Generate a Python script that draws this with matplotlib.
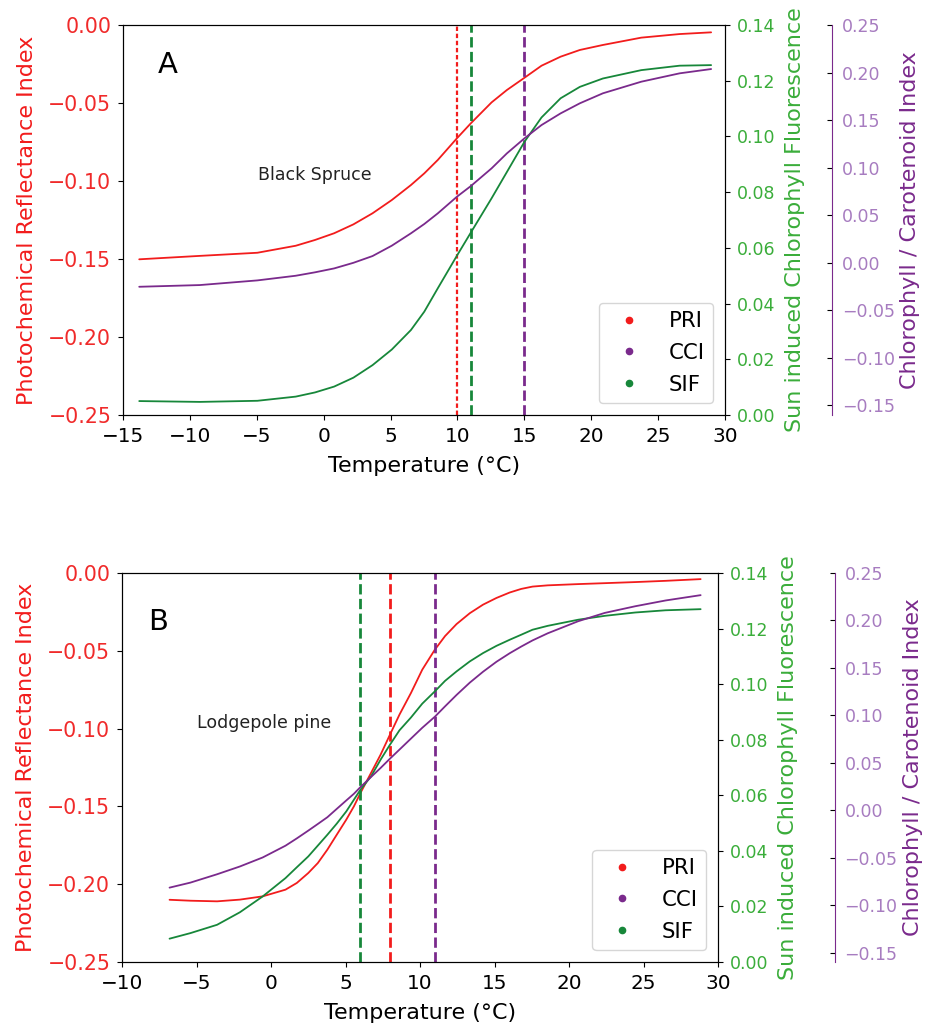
import matplotlib
matplotlib.use("Agg")
import matplotlib.pyplot as plt

# ---------------- data ----------------
# Panel A: Black Spruce
tA = [-13.79, -9.26, -4.96, -2.09, -0.65, 0.78, 2.22, 3.65, 5.09, 6.52, 7.52, 8.53, 9.96,
      11.0, 12.55, 13.69, 15.01, 16.28, 17.71, 19.15, 20.87, 23.74, 26.61, 28.96]
priA = [-0.1502, -0.148, -0.146, -0.1415, -0.1378, -0.1335, -0.1278, -0.1207, -0.1122, -0.1026,
        -0.0951, -0.0865, -0.0726, -0.063, -0.0496, -0.0417, -0.0338, -0.0261, -0.0203, -0.016,
        -0.0128, -0.0081, -0.0058, -0.0047]
cciA = [-0.0252, -0.0234, -0.0185, -0.0136, -0.010, -0.0059, 0.0000, 0.0071, 0.018, 0.031,
        0.0408, 0.052, 0.0695, 0.0807, 0.0993, 0.115, 0.1309, 0.1448, 0.1571, 0.1677,
        0.1782, 0.1904, 0.1992, 0.2037]
sifA = [0.0050, 0.0047, 0.0051, 0.0066, 0.0081, 0.0102, 0.0134, 0.0179, 0.0235, 0.0305,
        0.0371, 0.0455, 0.0572, 0.0655, 0.0778, 0.0872, 0.0981, 0.1068, 0.1137, 0.1178,
        0.1208, 0.1238, 0.1254, 0.1256]
vlinesA = {"PRI": 10, "SIF": 11, "CCI": 15}

# Panel B: Lodgepole pine
tB = [-6.81, -5.41, -3.62, -2.09, -0.56, 0.97, 1.73, 2.50, 3.14, 3.78, 4.41, 5.05, 5.56, 6.0,
      6.71, 7.35, 7.98, 8.62, 9.39, 10.15, 10.99, 11.68, 12.45, 13.34, 14.23, 15.13, 16.02,
      16.79, 17.55, 18.57, 20.61, 22.40, 24.44, 26.48, 28.83]
priB = [-0.210, -0.2106, -0.211, -0.2099, -0.2078, -0.2035, -0.1992, -0.1928, -0.1864, -0.1778,
        -0.1682, -0.1585, -0.150, -0.1414, -0.1285, -0.1168, -0.1039, -0.091, -0.0771, -0.0621,
        -0.0493, -0.0405, -0.0328, -0.0258, -0.0203, -0.0160, -0.0125, -0.0102, -0.0087, -0.0079,
        -0.0071, -0.0065, -0.0058, -0.0050, -0.0039]
cciB = [-0.0816, -0.0763, -0.0675, -0.0593, -0.0498, -0.0374, -0.0297, -0.0215, -0.0145, -0.0074,
        0.0014, 0.0103, 0.0173, 0.0244, 0.035, 0.0445, 0.0543, 0.0639, 0.0755, 0.0869,
        0.0985, 0.1095, 0.1215, 0.1345, 0.146, 0.1565, 0.1655, 0.1725, 0.179, 0.1865,
        0.1992, 0.208, 0.215, 0.2211, 0.2267]
sifB = [0.0084, 0.0104, 0.0134, 0.0179, 0.0236, 0.0302, 0.0341, 0.038, 0.0419, 0.0458,
        0.0498, 0.0542, 0.0584, 0.062, 0.0668, 0.0728, 0.0782, 0.0834, 0.0880, 0.0930,
        0.0974, 0.1012, 0.1046, 0.1082, 0.1112, 0.1138, 0.116, 0.1178, 0.1196, 0.121,
        0.1232, 0.1246, 0.1258, 0.1266, 0.127]
vlinesB = {"SIF": 6, "PRI": 8, "CCI": 11}

xlimsA = (-15, 30)
xlimsB = (-10, 30)
pri_lim = (-0.25, 0.0)
sif_lim = (0.0, 0.14)
cci_lim = (-0.16, 0.25)
pri_ticks = [-0.25, -0.20, -0.15, -0.10, -0.05, 0.00]
sif_ticks = [0.00, 0.02, 0.04, 0.06, 0.08, 0.10, 0.12, 0.14]
cci_ticks = [-0.15, -0.10, -0.05, 0.00, 0.05, 0.10, 0.15, 0.20, 0.25]
legend_labels = ["PRI", "CCI", "SIF"]

# ---------------- style ----------------
C_PRI = "#f21c1c"
C_CCI = "#7a2a8c"
C_SIF = "#17873a"
C_PRI_T = "#f02a2a"
C_SIF_T = "#3aad3a"
C_CCI_T = "#a77cc0"
TICK_FS = 14.8
XTICK_FS = 14.4
RTICK_FS = 12.5
LAB_FS = 16

fig = plt.figure(figsize=(9.30, 10.29), dpi=100)


def fmt(v):
    return f"{v:.2f}".replace("-", "\u2212")


def panel(rect, t, pri, cci, sif, vl, xlim, letter, name, letter_xy, name_xy, cci_pos, red_style):
    ax = fig.add_axes(rect)
    ax2 = ax.twinx()
    ax3 = ax.twinx()
    ax3.spines["right"].set_position(("axes", cci_pos))
    ax3.spines["right"].set_color(C_CCI)
    for s in ["top", "left", "bottom"]:
        ax3.spines[s].set_visible(False)

    kw = dict(lw=1.3, solid_joinstyle="round", solid_capstyle="round")
    ax.plot(t, pri, color=C_PRI, **kw)
    ax3.plot(t, cci, color=C_CCI, **kw)
    ax2.plot(t, sif, color=C_SIF, **kw)

    styles = {"PRI": (C_PRI, red_style), "SIF": (C_SIF, "--"), "CCI": (C_CCI, "--")}
    for k, xv in vl.items():
        c, ls = styles[k]
        lw = 1.6 if (k == "PRI" and red_style != "--") else 2.0
        ax.axvline(xv, color=c, ls=ls, lw=lw)

    ax.set_xlim(*xlim)
    ax.set_ylim(*pri_lim)
    ax2.set_ylim(*sif_lim)
    ax3.set_ylim(*cci_lim)
    ax.set_yticks(pri_ticks)
    ax2.set_yticks(sif_ticks)
    ax3.set_yticks(cci_ticks)
    ax.set_yticklabels([fmt(v) for v in pri_ticks])
    ax2.set_yticklabels([fmt(v) for v in sif_ticks])
    ax3.set_yticklabels([fmt(v) for v in cci_ticks])

    ax.tick_params(axis="x", labelsize=XTICK_FS, colors="black", pad=5)
    ax.tick_params(axis="y", labelsize=TICK_FS, labelcolor=C_PRI_T, pad=5)
    ax2.tick_params(axis="y", labelsize=RTICK_FS, labelcolor=C_SIF_T, pad=5)
    ax3.tick_params(axis="y", labelsize=RTICK_FS, labelcolor=C_CCI_T, direction="in", pad=7)

    ax.set_xlabel("Temperature (°C)", fontsize=LAB_FS, labelpad=7)
    ax.set_ylabel("Photochemical Reflectance Index", fontsize=LAB_FS, color=C_PRI, labelpad=8)
    ax2.set_ylabel("Sun induced Chlorophyll Fluorescence", fontsize=LAB_FS, color=C_SIF_T, labelpad=7)
    ax3.set_ylabel("Chlorophyll / Carotenoid Index", fontsize=LAB_FS, color=C_CCI, labelpad=4)

    ax.text(letter_xy[0], letter_xy[1], letter, transform=ax.transAxes, fontsize=21,
            va="center", ha="left")
    ax.text(name_xy[0], name_xy[1], name, transform=ax.transAxes, fontsize=12.5,
            va="center", ha="left", color="#222222")

    handles = [plt.Line2D([], [], ls="none", marker="o", ms=4.5, color=C_PRI),
               plt.Line2D([], [], ls="none", marker="o", ms=4.5, color=C_CCI),
               plt.Line2D([], [], ls="none", marker="o", ms=4.5, color=C_SIF)]
    ax.legend(handles, legend_labels, loc="lower right", fontsize=15.3,
              handletextpad=0.87, borderpad=0.4, labelspacing=0.56, handlelength=2.0,
              borderaxespad=0.55)
    return ax


panel([0.1323, 0.5967, 0.6473, 0.379], tA, priA, cciA, sifA, vlinesA, xlimsA,
      "A", "Black Spruce", (0.058, 0.897), (0.225, 0.615), 1.178, (0, (2.0, 1.2)))
panel([0.1312, 0.0651, 0.6409, 0.378], tB, priB, cciB, sifB, vlinesB, xlimsB,
      "B", "Lodgepole pine", (0.0436, 0.874), (0.125, 0.614), 1.196, "--")

fig.savefig("out.png", dpi=100)
